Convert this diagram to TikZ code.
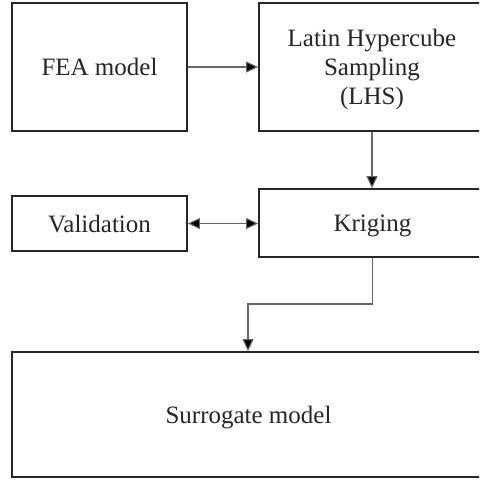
\documentclass[tikz,border=0pt]{standalone}
\usepackage{fontspec}
\setmainfont{Liberation Serif}
\usetikzlibrary{arrows.meta}
\begin{document}
\begin{tikzpicture}[x=1pt,y=-1pt,
  block/.style={draw=black!85, line width=1.8pt, fill=white, inner sep=0pt,
    align=center, font=\fontsize{25}{29}\selectfont, text=black!85, text depth=0pt},
  arr/.style={draw=black!60, line width=1.1pt, -{Triangle[length=12pt,width=11pt,fill=black]}},
  biarr/.style={draw=black!60, line width=1.1pt,
    {Triangle[length=12pt,width=11pt,fill=black]}-{Triangle[length=12pt,width=11pt,fill=black]}}]
  \useasboundingbox (0,0) rectangle (479,481);
  \clip (0,0) rectangle (479,481);

  % process blocks
  \node[block, minimum width=175pt, minimum height=128pt] (fea) at (99.5,67) {FEA model};
  \node[block, minimum width=226pt, minimum height=128pt, text height=17pt] (lhs) at (372,67)
    {\parbox[c]{220pt}{\centering Latin Hypercube\\Sampling\\(LHS)}};
  \node[block, minimum width=175pt, minimum height=55pt] (val) at (99.5,223.5) {Validation};
  \node[block, minimum width=227pt, minimum height=68pt] (krig) at (372.5,223) {Kriging};
  \node[block, minimum width=473pt, minimum height=125pt] (sur) at (248.5,414.5) {Surrogate model};

  % connectors
  \coordinate (bend) at (248,304);
  \draw[arr] (fea.east) -- (lhs.west);
  \draw[arr] (lhs.south) -- (lhs.south |- krig.north);
  \draw[biarr] (val.east) -- (val.east -| krig.west);
  \draw[arr] (krig.south) |- (bend) -- (bend |- sur.north);
\end{tikzpicture}
\end{document}
